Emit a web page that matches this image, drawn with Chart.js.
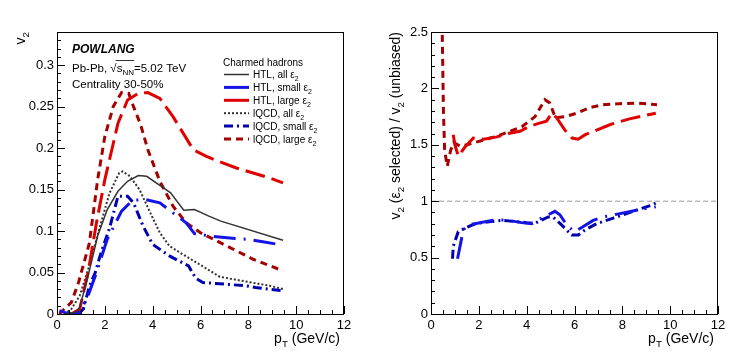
<!DOCTYPE html>
<html>
<head>
<meta charset="utf-8">
<script src="https://cdn.jsdelivr.net/npm/chart.js@4.4.0/dist/chart.umd.min.js"></script>
<style>
    body { margin: 0; background: #fff; }
    #wrap { position: relative; width: 747px; height: 361px; }
    .panel { position: absolute; top: 0; height: 361px; }
</style>
</head>
<body>
<div id="wrap">
    <div class="panel" style="left:0;width:373px"><canvas id="v2Chart" width="373" height="361"></canvas></div>
    <div class="panel" style="left:373px;width:374px"><canvas id="ratioChart" width="374" height="361"></canvas></div>
</div>
<script>
// ---- left panel: v2 vs pT ----
const htlAllPt = [0.3, 0.8, 0.95, 1.3, 1.7, 2.1, 2.55, 2.95, 3.4, 3.75, 4.3, 4.75, 5.3, 5.75, 6.35, 6.85, 9.45];
const htlAllV2 = [0.0, 0.002, 0.008, 0.046, 0.094, 0.126, 0.148, 0.160, 0.167, 0.166, 0.155, 0.146, 0.125, 0.126, 0.118, 0.112, 0.089];

const htlSmallPt = [0.1, 0.3, 0.6, 0.95, 1.3, 1.65, 2.1, 2.7, 3.15, 3.7, 4.3, 4.75, 5.4, 5.75, 6.4, 7.45, 8.0, 8.6, 9.45];
const htlSmallV2 = [0.004, 0.002, 0.0, 0.002, 0.022, 0.05, 0.09, 0.124, 0.137, 0.138, 0.134, 0.124, 0.11, 0.097, 0.094, 0.091, 0.09, 0.087, 0.083];

const htlLargePt = [0.6, 0.95, 1.3, 1.65, 2.0, 2.55, 2.95, 3.4, 3.8, 4.3, 4.85, 5.7, 6.25, 6.5, 7.5, 7.85, 8.9, 9.45];
const htlLargeV2 = [0.0, 0.006, 0.05, 0.11, 0.162, 0.23, 0.258, 0.266, 0.267, 0.26, 0.238, 0.198, 0.19, 0.187, 0.176, 0.173, 0.164, 0.158];

const iqcdAllPt = [0.3, 0.6, 0.95, 1.35, 1.8, 2.2, 2.6, 2.75, 3.05, 3.45, 3.9, 4.3, 4.7, 5.25, 5.95, 6.8, 7.35, 8.9, 9.45];
const iqcdAllV2 = [0.0, 0.006, 0.022, 0.058, 0.106, 0.146, 0.17, 0.172, 0.166, 0.15, 0.122, 0.098, 0.082, 0.072, 0.06, 0.045, 0.042, 0.034, 0.03];

const iqcdSmallPt = [0.9, 1.1, 1.36, 1.6, 1.8, 2.2, 2.55, 2.95, 3.2, 3.6, 4.0, 4.7, 5.5, 5.8, 6.1, 7.9, 8.3, 9.45];
const iqcdSmallV2 = [0.0, 0.006, 0.034, 0.05, 0.07, 0.104, 0.142, 0.142, 0.134, 0.106, 0.084, 0.07, 0.058, 0.043, 0.038, 0.034, 0.032, 0.028];

const iqcdLargePt = [0.1, 0.3, 0.6, 0.9, 1.35, 1.7, 2.0, 2.35, 2.7, 3.0, 3.2, 3.5, 3.8, 4.3, 4.85, 5.4, 6.0, 7.1, 8.2, 9.45];
const iqcdLargeV2 = [0.0, 0.006, 0.014, 0.038, 0.085, 0.162, 0.214, 0.25, 0.267, 0.266, 0.25, 0.228, 0.198, 0.16, 0.13, 0.11, 0.098, 0.082, 0.066, 0.052];

// ---- right panel: v2(eps2 selected) / v2(unbiased) ----
const rHtlSmallPt = [1.11, 1.35, 1.56, 1.84, 2.54, 3.09, 3.79, 4.21, 4.63, 5.18, 5.39, 5.7, 6.0, 6.37, 6.78, 7.2, 8.6, 9.4];
const rHtlSmallR = [0.49, 0.745, 0.79, 0.80, 0.83, 0.835, 0.81, 0.80, 0.85, 0.91, 0.88, 0.78, 0.73, 0.775, 0.83, 0.86, 0.92, 0.95];

const rHtlLargePt = [0.93, 1.0, 1.14, 1.42, 1.77, 2.2, 2.75, 3.23, 3.72, 4.07, 4.5, 4.83, 5.05, 5.25, 5.6, 5.9, 6.15, 6.45, 7.5, 8.3, 9.4];
const rHtlLargeR = [1.59, 1.5, 1.40, 1.48, 1.56, 1.55, 1.57, 1.60, 1.62, 1.66, 1.69, 1.71, 1.78, 1.74, 1.63, 1.56, 1.55, 1.59, 1.68, 1.73, 1.78];

const rIqcdSmallPt = [0.9, 0.93, 1.14, 1.42, 1.84, 2.5, 3.0, 3.5, 4.0, 4.35, 4.9, 5.1, 5.46, 5.88, 6.16, 6.44, 6.92, 7.62, 8.45, 9.29, 9.5];
const rIqcdSmallR = [0.49, 0.60, 0.73, 0.76, 0.80, 0.82, 0.83, 0.82, 0.81, 0.805, 0.86, 0.86, 0.79, 0.70, 0.70, 0.745, 0.80, 0.85, 0.91, 0.97, 1.0];

const rIqcdLargePt = [0.44, 0.47, 0.52, 0.57, 0.68, 0.82, 0.95, 1.2, 1.5, 2.0, 2.8, 3.3, 3.8, 4.35, 4.76, 4.97, 5.2, 5.6, 6.1, 6.65, 7.2, 7.9, 8.6, 9.45];
const rIqcdLargeR = [2.9, 2.5, 1.8, 1.45, 1.31, 1.45, 1.52, 1.49, 1.5, 1.53, 1.58, 1.62, 1.66, 1.75, 1.9, 1.87, 1.74, 1.75, 1.78, 1.83, 1.855, 1.865, 1.87, 1.855];

const unityPt = [0, 12];
const unityR = [1, 1];

// tick labels
const ptTicks = [0, 2, 4, 6, 8, 10, 12];
const v2Ticks = [0, 0.05, 0.1, 0.15, 0.2, 0.25, 0.3];
const ratioTicks = [0, 0.5, 1, 1.5, 2, 2.5];

const FONT = '"Liberation Sans", Arial, Helvetica, sans-serif';
const COLORS = {
    grey: '#333333',
    blue: '#1414e6',
    darkBlue: '#0000b0',
    red: '#e00000',
    darkRed: '#a40000',
};

// line styles for the six curves (legend uses the same)
const STYLES = {
    htlAll: {color: COLORS.grey, width: 1.5, dash: []},
    htlSmall: {color: COLORS.blue, width: 3, dash: [22, 8, 2, 8]},
    htlLarge: {color: COLORS.red, width: 3, dash: [20, 7]},
    iqcdAll: {color: COLORS.grey, width: 2, dash: [2, 2]},
    iqcdSmall: {color: COLORS.darkBlue, width: 3, dash: [9, 4, 2, 4]},
    iqcdLarge: {color: COLORS.darkRed, width: 3, dash: [7, 5]},
};

function toPoints(xs, ys) {
    return xs.map((x, i) => ({x: x, y: ys[i]}));
}

function makeDataset(xs, ys, style) {
    return {
        data: toPoints(xs, ys),
        showLine: true,
        borderColor: style.color,
        borderWidth: style.width,
        borderDash: style.dash,
        pointRadius: 0,
        tension: 0,
        fill: false,
        clip: 0,
    };
}

// draws text made of [string, isSubscript] parts
function drawRich(ctx, parts, x, y, size, align) {
    let w = 0;
    parts.forEach(([t, sub]) => {
        ctx.font = (sub ? size * 0.7 : size) + 'px ' + FONT;
        w += ctx.measureText(t).width;
    });
    let cx = align === 'right' ? x - w : x;
    parts.forEach(([t, sub]) => {
        ctx.font = (sub ? size * 0.7 : size) + 'px ' + FONT;
        ctx.fillText(t, cx, sub ? y + size * 0.3 : y);
        cx += ctx.measureText(t).width;
    });
}

// ROOT-like frame with inward major/minor ticks and axis titles
function rootAxes(opt) {
    return {
        id: 'rootAxes',
        afterDatasetsDraw(chart) {
            const ctx = chart.ctx;
            const a = chart.chartArea;
            const xs = chart.scales.x;
            const ys = chart.scales.y;
            ctx.save();
            ctx.strokeStyle = '#000';
            ctx.lineWidth = 1;
            ctx.strokeRect(a.left + 0.5, a.top + 0.5, a.right - a.left - 1, a.bottom - a.top);
            ctx.beginPath();
            let n = Math.round((xs.max - xs.min) / opt.xMinor);
            for (let i = 0; i <= n; i++) {
                const v = xs.min + i * opt.xMinor;
                const major = Math.abs(v / opt.xMajor - Math.round(v / opt.xMajor)) < 1e-6;
                const px = Math.round(xs.getPixelForValue(v)) + 0.5;
                ctx.moveTo(px, a.bottom);
                ctx.lineTo(px, a.bottom - (major ? 8 : 4));
            }
            n = Math.round((ys.max - ys.min) / opt.yMinor);
            for (let i = 0; i <= n; i++) {
                const v = ys.min + i * opt.yMinor;
                const major = Math.abs(v / opt.yMajor - Math.round(v / opt.yMajor)) < 1e-6;
                const py = Math.round(ys.getPixelForValue(v)) + 0.5;
                ctx.moveTo(a.left, py);
                ctx.lineTo(a.left + (major ? 8 : 4), py);
            }
            ctx.stroke();

            ctx.fillStyle = '#000';
            ctx.textBaseline = 'alphabetic';
            drawRich(ctx, [['p', false], ['T', true], [' (GeV/c)', false]], a.right - 4, 343, 14, 'right');
            ctx.save();
            ctx.translate(opt.yTitleX, a.top);
            ctx.rotate(-Math.PI / 2);
            drawRich(ctx, opt.yTitle, 0, 0, 14, 'right');
            ctx.restore();
            ctx.restore();
        },
    };
}

// text block and legend of the left panel
const v2Labels = {
    id: 'v2Labels',
    afterDraw(chart) {
        const ctx = chart.ctx;
        ctx.save();
        ctx.fillStyle = '#000';
        ctx.textBaseline = 'alphabetic';
        ctx.font = 'italic bold 12px ' + FONT;
        ctx.fillText('POWLANG', 72, 53);

        ctx.font = '11.5px ' + FONT;
        ctx.fillText('Pb-Pb, ', 72, 71.5);
        let cx = 72 + ctx.measureText('Pb-Pb, ').width;
        ctx.fillText('\u221A', cx, 71.5);
        cx += ctx.measureText('\u221A').width;
        const startBar = cx;
        ctx.fillText('s', cx, 71.5);
        cx += ctx.measureText('s').width;
        ctx.font = '8px ' + FONT;
        ctx.fillText('NN', cx, 74.5);
        cx += ctx.measureText('NN').width;
        ctx.strokeStyle = '#000';
        ctx.lineWidth = 0.8;
        ctx.beginPath();
        ctx.moveTo(startBar - 1, 60.5);
        ctx.lineTo(cx, 60.5);
        ctx.stroke();
        ctx.font = '11.5px ' + FONT;
        ctx.fillText('=5.02 TeV', cx, 71.5);
        ctx.fillText('Centrality 30-50%', 72, 88);

        // legend
        ctx.font = '10px ' + FONT;
        ctx.fillText('Charmed hadrons', 223, 66);
        const entries = [
            ['HTL, all ', STYLES.htlAll, true],
            ['HTL, small ', STYLES.htlSmall, false],
            ['HTL, large ', STYLES.htlLarge, false],
            ['lQCD, all ', STYLES.iqcdAll, true],
            ['lQCD, small ', STYLES.iqcdSmall, true],
            ['lQCD, large ', STYLES.iqcdLarge, true],
        ];
        entries.forEach(([label, st, keepDash], i) => {
            const y = 74.5 + i * 12.9;
            ctx.strokeStyle = st.color;
            ctx.lineWidth = st.width;
            ctx.setLineDash(keepDash ? st.dash : []);
            ctx.beginPath();
            ctx.moveTo(224, y);
            ctx.lineTo(249, y);
            ctx.stroke();
            ctx.setLineDash([]);
            drawRich(ctx, [[label + '\u03B5', false], ['2', true]], 253, y + 3.5, 10, 'left');
        });
        ctx.restore();
    },
};

function axisOptions(min, max, ticks, yWidth) {
    return {
        x: {
            type: 'linear', min: 0, max: 12,
            grid: {display: false, drawTicks: false},
            border: {display: false},
            ticks: {font: {family: FONT, size: 13}, color: '#000', padding: 4, maxRotation: 0, autoSkip: false},
            afterBuildTicks: (scale) => { scale.ticks = ptTicks.map(v => ({value: v})); },
            afterFit: (scale) => { scale.height = 47; },
        },
        y: {
            type: 'linear', min: min, max: max,
            grid: {display: false, drawTicks: false},
            border: {display: false},
            ticks: {font: {family: FONT, size: 13}, color: '#000', padding: 3, autoSkip: false,
                callback: (v) => String(+v.toFixed(2))},
            afterBuildTicks: (scale) => { scale.ticks = ticks.map(v => ({value: v})); },
            afterFit: (scale) => { scale.width = yWidth; },
        },
    };
}

new Chart(document.getElementById('v2Chart'), {
    type: 'scatter',
    data: {
        datasets: [
            makeDataset(htlAllPt, htlAllV2, STYLES.htlAll),
            makeDataset(htlSmallPt, htlSmallV2, STYLES.htlSmall),
            makeDataset(htlLargePt, htlLargeV2, STYLES.htlLarge),
            makeDataset(iqcdAllPt, iqcdAllV2, STYLES.iqcdAll),
            makeDataset(iqcdSmallPt, iqcdSmallV2, STYLES.iqcdSmall),
            makeDataset(iqcdLargePt, iqcdLargeV2, STYLES.iqcdLarge),
        ],
    },
    options: {
        responsive: false,
        animation: false,
        devicePixelRatio: 1,
        layout: {padding: {top: 32, right: 29, left: 0, bottom: 0}},
        plugins: {legend: {display: false}, tooltip: {enabled: false}},
        scales: axisOptions(0, 0.34, v2Ticks, 57),
    },
    plugins: [
        rootAxes({xMajor: 2, xMinor: 0.5, yMajor: 0.05, yMinor: 0.01, yTitleX: 25,
            yTitle: [['v', false], ['2', true]]}),
        v2Labels,
    ],
});

const unity = makeDataset(unityPt, unityR, {color: '#999999', width: 1, dash: [5, 3]});

new Chart(document.getElementById('ratioChart'), {
    type: 'scatter',
    data: {
        datasets: [
            unity,
            makeDataset(rHtlSmallPt, rHtlSmallR, STYLES.htlSmall),
            makeDataset(rHtlLargePt, rHtlLargeR, STYLES.htlLarge),
            makeDataset(rIqcdSmallPt, rIqcdSmallR, STYLES.iqcdSmall),
            makeDataset(rIqcdLargePt, rIqcdLargeR, STYLES.iqcdLarge),
        ],
    },
    options: {
        responsive: false,
        animation: false,
        devicePixelRatio: 1,
        layout: {padding: {top: 32, right: 29, left: 0, bottom: 0}},
        plugins: {legend: {display: false}, tooltip: {enabled: false}},
        scales: axisOptions(0, 2.5, ratioTicks, 58),
    },
    plugins: [
        rootAxes({xMajor: 2, xMinor: 0.5, yMajor: 0.5, yMinor: 0.1, yTitleX: 400 - 373,
            yTitle: [['v', false], ['2', true], [' (', false], ['\u03B5', false], ['2', true],
                [' selected) / ', false], ['v', false], ['2', true], [' (unbiased)', false]]}),
    ],
});
</script>
</body>
</html>
